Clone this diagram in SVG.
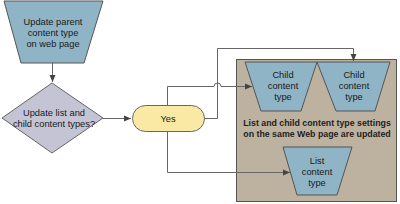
<svg xmlns="http://www.w3.org/2000/svg" width="400" height="204" viewBox="0 0 400 204">
<defs>
<style>
text{font-family:"Liberation Sans",Arial,sans-serif;font-size:9.3px;fill:#1a1a1a;text-anchor:middle}
.trap{fill:#8fb4c6;stroke:#555;stroke-width:1}
.c{fill:none;stroke:#666;stroke-width:1}
.b{font-weight:bold;font-size:8.8px;fill:#222}
</style>
<marker id="ah" markerWidth="8" markerHeight="8" refX="7" refY="4" orient="auto" markerUnits="userSpaceOnUse">
<path d="M0,1 L7,4 L0,7 Z" fill="#444"/>
</marker>
</defs>
<rect width="400" height="204" fill="#fff"/>
<g id="container">
<rect x="236.5" y="59.5" width="160" height="142" fill="#bdb19f" stroke="#555"/>
<text class="b" x="317" y="126">List and child content type settings</text>
<text class="b" x="317" y="137">on the same Web page are updated</text>
</g>
<g id="parent">
<polygon class="trap" points="4,1 103,1 84,63 21,63"/>
<text x="53" y="25">Update parent</text>
<text x="53" y="36">content type</text>
<text x="53" y="47">on web page</text>
</g>
<g id="decision">
<polygon points="52,83 103,118 52,153 2,118" fill="#c4c4d4" stroke="#666"/>
<text x="54" y="116">Update list and</text>
<text x="54" y="127">child content types?</text>
</g>
<g id="yes">
<rect x="132.5" y="105.5" width="72" height="26" rx="13" fill="#f9e9a4" stroke="#666"/>
<text x="168" y="121.5">Yes</text>
</g>
<g id="child1">
<polygon class="trap" points="245,62 317,62 301,111 261,111"/>
<text x="283" y="78">Child</text>
<text x="283" y="89">content</text>
<text x="283" y="100">type</text>
</g>
<g id="child2">
<polygon class="trap" points="317,62 390,62 375,111 336,111"/>
<text x="354" y="78">Child</text>
<text x="354" y="89">content</text>
<text x="354" y="100">type</text>
</g>
<g id="list">
<polygon class="trap" points="283,147 352,147 337,195 297,195"/>
<text x="317" y="164">List</text>
<text x="317" y="175">content</text>
<text x="317" y="186">type</text>
</g>
<g id="connectors">
<path class="c" d="M52.5,63 V82" marker-end="url(#ah)"/>
<path class="c" d="M103,118.5 H131" marker-end="url(#ah)"/>
<path class="c" d="M204.5,118.5 H217.5 V48.5 H353.5 V61" marker-end="url(#ah)"/>
<path class="c" d="M167.5,105.5 V86.5 H214 A3.5,3.5 0 0 1 221,86.5 H252" marker-end="url(#ah)"/>
<path class="c" d="M167.5,131.5 V172.5 H290" marker-end="url(#ah)"/>
</g>
</svg>
